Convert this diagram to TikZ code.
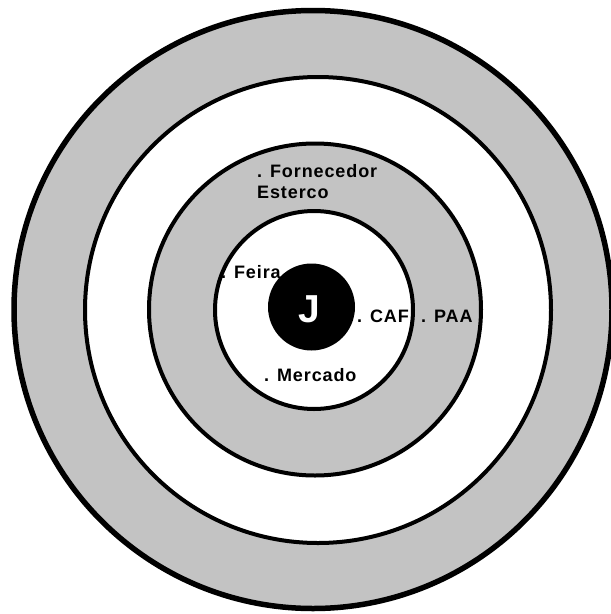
\documentclass[tikz,border=0pt]{standalone}
\usepackage{fontspec}
\usepackage{tikz}
\newfontfamily\rotulofont[LetterSpace=5]{Liberation Sans}
\newfontfamily\letrafont{Liberation Sans}
\definecolor{cinza}{HTML}{C3C3C3}

\begin{document}
\begin{tikzpicture}[x=1pt, y=-1pt,
            every node/.style={inner sep=0pt},
            rotulo/.style={anchor=base west,
                font=\rotulofont\bfseries\fontsize{18}{20}\selectfont}]
        % Area do desenho
        \useasboundingbox (0,0) rectangle (611,614);
        \clip (0,0) rectangle (611,614);

        % Centros dos circulos (feitos a mao, quase concentricos)
        \coordinate (O1) at (313,309.5);
        \coordinate (O2) at (318,310);
        \coordinate (O3) at (315,309.5);
        \coordinate (O4) at (314,310);
        \coordinate (O5) at (311.5,307);

        % Aneis, de fora para dentro
        \filldraw[fill=cinza, line width=5.5pt] (O1) circle (299pt);
        \filldraw[fill=white, line width=4pt] (O2) circle (233pt);
        \filldraw[fill=cinza, line width=4pt] (O3) circle (166pt);
        \filldraw[fill=white, line width=4pt] (O4) circle (99pt);
        \fill[black] (O5) circle (43.5pt);

        % Centro
        \node[anchor=base, text=white,
            font=\letrafont\bfseries\fontsize{39}{40}\selectfont] (j) at (309,322) {J};

        % Rotulos
        \foreach \nome/\x/\y/\texto in {
                forn/257/177/. Fornecedor,
                est/257/198/Esterco,
                feira/221/278/. Feira,
                caf/357/322/. CAF,
                paa/421/322/. PAA,
                merc/264/381/. Mercado}{
                \node[rotulo] (\nome) at (\x,\y) {\texto};
            }
    \end{tikzpicture}
\end{document}
